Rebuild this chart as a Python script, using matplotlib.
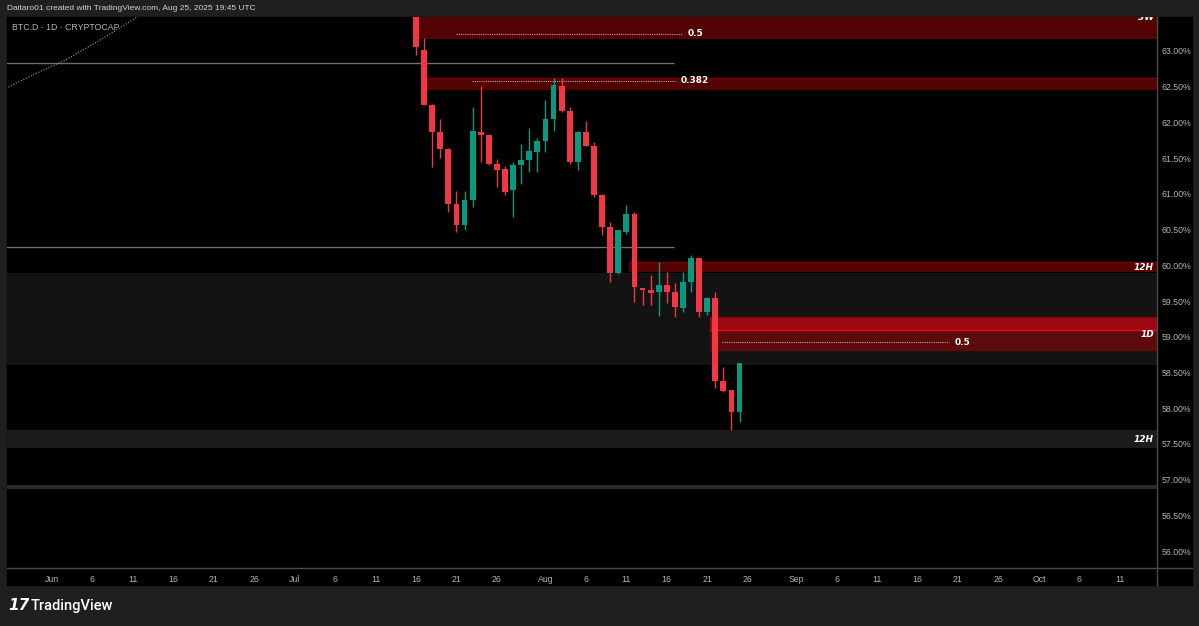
import numpy as np
import pandas as pd
import matplotlib
matplotlib.use("Agg")
import matplotlib.pyplot as plt
import matplotlib.dates as mdates
import matplotlib.transforms as mtransforms
from matplotlib.patches import Rectangle
from matplotlib.lines import Line2D

W, H = 1199, 626

# daily candles, BTC.D
dates = pd.date_range("2025-07-16", "2025-08-25", freq="D")
opens = [63.55, 63.01, 62.25, 61.86, 61.63, 60.86, 60.56, 60.92, 61.86, 61.83,
         61.42, 61.35, 61.05, 61.41, 61.48, 61.59, 61.74, 62.05, 62.51, 62.16,
         61.44, 61.86, 61.67, 60.99, 60.54, 59.89, 60.47, 60.72, 59.68, 59.65,
         59.63, 59.72, 59.63, 59.40, 59.76, 60.10, 59.34, 59.54, 58.38, 58.25,
         57.94]
highs = [63.60, 63.18, 62.26, 62.05, 61.64, 61.04, 61.04, 62.22, 62.51, 61.84,
         61.49, 61.39, 61.45, 61.70, 61.92, 61.78, 62.32, 62.62, 62.62, 62.22,
         61.88, 62.02, 61.72, 61.00, 60.60, 60.49, 60.85, 60.75, 59.68, 59.87,
         60.04, 59.90, 59.75, 59.90, 60.14, 60.12, 59.56, 59.62, 58.57, 58.26,
         58.63]
lows = [62.94, 62.24, 61.38, 61.50, 60.75, 60.46, 60.50, 60.81, 61.44, 61.40,
        61.09, 60.99, 60.67, 61.14, 61.31, 61.31, 61.59, 61.88, 62.14, 61.42,
        61.34, 61.67, 60.96, 60.43, 59.76, 59.88, 60.44, 59.49, 59.44, 59.44,
        59.29, 59.47, 59.27, 59.35, 59.63, 59.27, 59.30, 58.28, 58.23, 57.69,
        57.80]
closes = [63.06, 62.25, 61.86, 61.63, 60.86, 60.56, 60.92, 61.88, 61.83, 61.42,
          61.34, 61.03, 61.41, 61.48, 61.60, 61.74, 62.05, 62.53, 62.16, 61.44,
          61.86, 61.67, 60.99, 60.54, 59.89, 60.49, 60.72, 59.69, 59.66, 59.61,
          59.73, 59.63, 59.41, 59.76, 60.10, 59.34, 59.54, 58.38, 58.24, 57.94,
          58.63]

# red supply zones: start, low, high, label
red_starts = ["2025-07-15 14:00", "2025-07-17 03:00", "2025-08-11 07:00"]
red_lows = [63.17, 62.455, 59.90]
red_highs = [63.60, 62.62, 60.04]
red_labels = ["3W", "", "12H"]
red_label_y = [63.475, None, 59.97]
zone_1d_start = "2025-08-21 07:00"
zone_1d_top, zone_1d_mid, zone_1d_bottom = 59.27, 59.09, 58.80

# gray zones across the whole chart
gray_lows = [58.60, 57.44, 56.87]
gray_highs = [59.885, 57.693, 56.92]
gray_colors = ["#131313", "#1b1b1b", "#2a2a2a"]

# fib levels (dotted)
fib_starts = ["2025-07-20 22:00", "2025-07-22 22:00", "2025-08-22 20:00"]
fib_ends = ["2025-08-17 22:00", "2025-08-17 02:00", "2025-09-19 22:00"]
fib_values = [63.24, 62.58, 58.92]
fib_labels = ["0.5", "0.382", "0.5"]

# gray horizontal rays
hline_values = [62.83, 60.26]
hline_end = "2025-08-16 22:00"

# dotted curve top-left
curve_dates = ["2025-05-26 00:00", "2025-05-29 22:00", "2025-06-02 15:00",
               "2025-06-06 22:00", "2025-06-12 05:00"]
curve_values = [62.46, 62.68, 62.87, 63.15, 63.52]

month_starts = ["2025-06", "2025-07", "2025-08", "2025-09", "2025-10"]
tick_days = [1, 6, 11, 16, 21, 26]

UP = "#089981"
DOWN = "#f23645"
TXT = "#b2b5be"
narrow = ["Liberation Sans Narrow", "Liberation Sans", "DejaVu Sans"]

fig = plt.figure(figsize=(W / 100, H / 100), dpi=100)
fig.patch.set_facecolor("#1f1f1f")
fig.patches.append(Rectangle((7 / W, 1 - 585 / H), (1192 - 7) / W, (585 - 17) / H,
                             transform=fig.transFigure, color="black", zorder=-5))

ax = fig.add_axes([7 / W, 1 - 568 / H, 1150 / W, 551 / H])
ax.set_zorder(2)
ax.set_facecolor("black")
for s in ax.spines.values():
    s.set_visible(False)

far_left = pd.Timestamp("2025-05-01")
far_right = pd.Timestamp("2025-11-30")
yx = mtransforms.blended_transform_factory(ax.transAxes, ax.transData)

for lo, hi, c in zip(gray_lows, gray_highs, gray_colors):
    ax.fill_between([far_left, far_right], lo, hi, color=c, lw=0, zorder=1)

for st, lo, hi, lab, ly in zip(red_starts, red_lows, red_highs, red_labels, red_label_y):
    ax.fill_between([pd.Timestamp(st), far_right], lo, hi, color="#520202", lw=0, zorder=2)
    ax.hlines(hi, pd.Timestamp(st), far_right, color="#7a0606", lw=1, zorder=2)
    if lab:
        ax.text(0.9974, ly, lab, transform=yx,
                ha="right", va="center", color="white", fontsize=6.5,
                fontweight="bold", style="italic", zorder=6, clip_on=True)

# 1D zone
st = pd.Timestamp(zone_1d_start)
ax.fill_between([st, far_right], zone_1d_mid, zone_1d_top, color="#9e0812", lw=0, zorder=2)
ax.fill_between([st, far_right], zone_1d_bottom, zone_1d_mid, color="#5c0a0c", lw=0, zorder=2)
ax.hlines(zone_1d_mid, st, far_right, color="#e3101c", lw=1, zorder=3)
ax.hlines(zone_1d_top, st, far_right, color="#7a0606", lw=0.8, zorder=3)
ax.text(0.9974, 59.03, "1D", transform=yx,
        ha="right", va="center", color="white", fontsize=6.5,
        fontweight="bold", style="italic", zorder=6)
ax.text(0.9974, (gray_lows[1] + gray_highs[1]) / 2, "12H", transform=yx,
        ha="right", va="center", color="white", fontsize=6.5,
        fontweight="bold", style="italic", zorder=6)

for v in hline_values:
    ax.hlines(v, far_left, pd.Timestamp(hline_end), color="#6f6f6f", lw=1, zorder=3)

ax.plot(pd.to_datetime(curve_dates), curve_values, color="#9a9a9a", lw=0.8,
        ls=(0, (1, 1.5)), zorder=3)

for a, b, v, lab in zip(fib_starts, fib_ends, fib_values, fib_labels):
    ax.hlines(v, pd.Timestamp(a), pd.Timestamp(b), color="#c8a0a0", lw=0.8,
              linestyles=(0, (1, 1)), zorder=4)
    ax.text(pd.Timestamp(b) + pd.Timedelta(hours=16), v, lab, color="white",
            fontsize=6.5, fontweight="bold", va="center", ha="left", zorder=6)

# candles
x = mdates.date2num(dates)
o = np.array(opens)
c = np.array(closes)
colors = np.where(c >= o, UP, DOWN)
ax.vlines(x, lows, highs, colors=colors, lw=1, zorder=5)
bottoms = np.minimum(o, c)
heights = np.maximum(np.abs(c - o), 0.015)
ax.bar(x, heights, bottom=bottoms, width=0.72, color=colors, lw=0, zorder=5)

ax.set_xlim(mdates.date2num(pd.Timestamp("2025-06-01")) - 5.56,
            mdates.date2num(pd.Timestamp("2025-06-01")) + 136.6)
ax.set_ylim(55.763, 63.475)

tick_pos, tick_lab = [], []
for m in month_starts:
    for d in tick_days:
        t = pd.Timestamp(f"{m}-{d:02d}")
        if t > pd.Timestamp("2025-10-11"):
            continue
        tick_pos.append(mdates.date2num(t))
        tick_lab.append(t.strftime("%b") if d == 1 else str(d))
ax.set_xticks(tick_pos)
ax.set_xticklabels(tick_lab, family=narrow)
yt = np.arange(56.0, 63.01, 0.5)
ax.yaxis.tick_right()
ax.set_yticks(yt)
ax.set_yticklabels([f"{v:.2f}%" for v in yt], family=narrow)
ax.tick_params(axis="both", length=0, colors=TXT, labelsize=6.3)
ax.tick_params(axis="x", pad=5)
ax.tick_params(axis="y", pad=3.5)

# axis separators
fig.add_artist(Line2D([7 / W, 1192 / W], [1 - 568 / H] * 2, color="#4a4a4a", lw=1,
                      transform=fig.transFigure, zorder=3))
fig.add_artist(Line2D([1157 / W] * 2, [1 - 17 / H, 1 - 585 / H], color="#4a4a4a", lw=1,
                      transform=fig.transFigure, zorder=3))

fig.text(7 / W, 1 - 9 / H, "Daitaro01 created with TradingView.com, Aug 25, 2025 19:45 UTC",
         color="#d1d4dc", fontsize=6, va="center", ha="left", family=narrow)
fig.text(12 / W, 1 - 27 / H, "BTC.D · 1D · CRYPTOCAP", color=TXT, fontsize=6.3,
         va="center", ha="left", family=narrow, zorder=4)
fig.text(8 / W, 1 - 606 / H, "17", color="white", fontsize=11, fontweight="heavy",
         va="center", ha="left", style="italic")
fig.text(31 / W, 1 - 606 / H, "TradingView", color="white", fontsize=10.5,
         va="center", ha="left", family=["Roboto", "DejaVu Sans"], fontweight="medium")

fig.savefig("out.png", dpi=100, facecolor=fig.get_facecolor())
